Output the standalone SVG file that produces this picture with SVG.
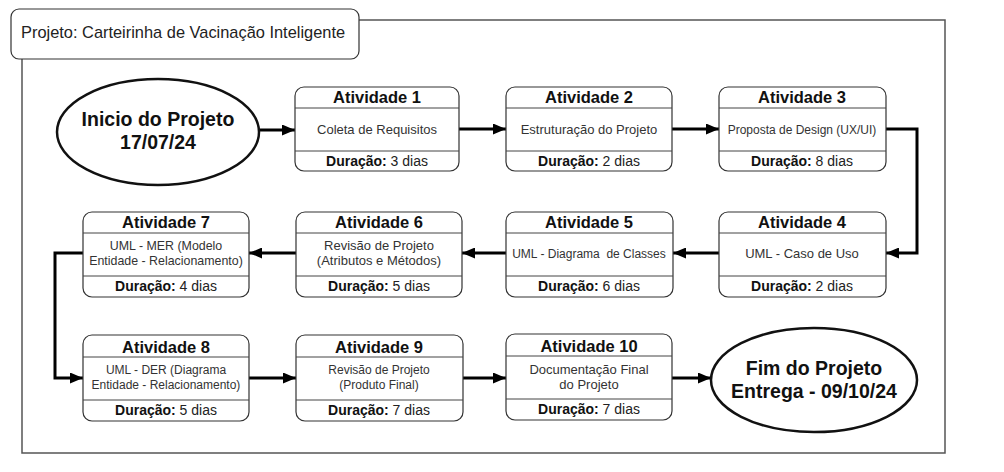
<svg xmlns="http://www.w3.org/2000/svg" width="1004" height="472" viewBox="0 0 1004 472">
<defs>
<style>
.frame{fill:none;stroke:#555;stroke-width:1.5}
.tbox{fill:#fff;stroke:#333;stroke-width:1.2}
.title{font-family:"Liberation Sans",Arial,sans-serif;font-size:16.4px;fill:#222}
.box{fill:#fff;stroke:#333;stroke-width:1.2}
.div{stroke:#444;stroke-width:1}
.hd{font-family:"Liberation Sans",Arial,sans-serif;font-size:16.5px;font-weight:bold;fill:#111;text-anchor:middle}
.md{font-family:"Liberation Sans",Arial,sans-serif;font-size:13px;fill:#333;text-anchor:middle}
.sm{font-size:12px}
.ms{font-size:12.4px}
.ft{font-family:"Liberation Sans",Arial,sans-serif;font-size:14px;fill:#222;text-anchor:middle}
.ft tspan.b{font-weight:bold;fill:#111}
.ell{fill:#fff;stroke:#111;stroke-width:2.5}
.big{font-family:"Liberation Sans",Arial,sans-serif;font-size:19.5px;font-weight:bold;fill:#111;text-anchor:middle}
.con{fill:none;stroke:#000;stroke-width:3;marker-end:url(#arr)}
</style>
<marker id="arr" viewBox="0 0 13 11" refX="13" refY="5.5" markerWidth="13" markerHeight="11" markerUnits="userSpaceOnUse" orient="auto">
<path d="M0,0 L13,5.5 L0,11 z" fill="#000"/>
</marker>
</defs>
<rect width="1004" height="472" fill="#fff"/>
<rect class="frame" x="22" y="20" width="923" height="433"/>
<g id="title">
<rect class="tbox" x="11" y="9" width="348" height="50" rx="8"/>
<text class="title" x="21" y="38">Projeto: Carteirinha de Vacinação Inteligente</text>
</g>
<g id="connectors">
<path class="con" d="M259,130 H295"/>
<path class="con" d="M459,129 H506"/>
<path class="con" d="M672,129 H719"/>
<path class="con" d="M886,129 H917 V253 H886"/>
<path class="con" d="M719,253 H673"/>
<path class="con" d="M506,253 H462"/>
<path class="con" d="M296,253 H249"/>
<path class="con" d="M83,253 H55 V378 H83"/>
<path class="con" d="M249,378 H296"/>
<path class="con" d="M463,378 H506"/>
<path class="con" d="M672,378 H711"/>
</g>
<g id="start">
<ellipse class="ell" cx="158" cy="132" rx="101" ry="53"/>
<text class="big" x="158" y="126">Inicio do Projeto</text>
<text class="big" x="158" y="149">17/07/24</text>
</g>
<g id="a1">
<rect class="box" x="295" y="87" width="164" height="84" rx="9"/>
<line class="div" x1="295" y1="108" x2="459" y2="108"/><line class="div" x1="295" y1="151" x2="459" y2="151"/>
<text class="hd" x="377" y="103">Atividade 1</text>
<text class="md" x="377" y="134">Coleta de Requisitos</text>
<text class="ft" x="377" y="166"><tspan class="b">Duração:</tspan> 3 dias</text>
</g>
<g id="a2">
<rect class="box" x="506" y="87" width="166" height="84" rx="9"/>
<line class="div" x1="506" y1="108" x2="672" y2="108"/><line class="div" x1="506" y1="151" x2="672" y2="151"/>
<text class="hd" x="589" y="103">Atividade 2</text>
<text class="md" x="589" y="134">Estruturação do Projeto</text>
<text class="ft" x="589" y="166"><tspan class="b">Duração:</tspan> 2 dias</text>
</g>
<g id="a3">
<rect class="box" x="719" y="87" width="167" height="84" rx="9"/>
<line class="div" x1="719" y1="108" x2="886" y2="108"/><line class="div" x1="719" y1="151" x2="886" y2="151"/>
<text class="hd" x="802" y="103">Atividade 3</text>
<text class="md sm" x="802" y="134">Proposta de Design (UX/UI)</text>
<text class="ft" x="802" y="166"><tspan class="b">Duração:</tspan> 8 dias</text>
</g>
<g id="a4">
<rect class="box" x="719" y="212" width="167" height="85" rx="9"/>
<line class="div" x1="719" y1="233" x2="886" y2="233"/><line class="div" x1="719" y1="276" x2="886" y2="276"/>
<text class="hd" x="802" y="228">Atividade 4</text>
<text class="md" x="802" y="258">UML - Caso de Uso</text>
<text class="ft" x="802" y="291"><tspan class="b">Duração:</tspan> 2 dias</text>
</g>
<g id="a5">
<rect class="box" x="506" y="212" width="167" height="85" rx="9"/>
<line class="div" x1="506" y1="233" x2="673" y2="233"/><line class="div" x1="506" y1="276" x2="673" y2="276"/>
<text class="hd" x="589" y="228">Atividade 5</text>
<text class="md sm" x="589" y="258" xml:space="preserve">UML - Diagrama  de Classes</text>
<text class="ft" x="589" y="291"><tspan class="b">Duração:</tspan> 6 dias</text>
</g>
<g id="a6">
<rect class="box" x="296" y="212" width="166" height="85" rx="9"/>
<line class="div" x1="296" y1="233" x2="462" y2="233"/><line class="div" x1="296" y1="276" x2="462" y2="276"/>
<text class="hd" x="379" y="228">Atividade 6</text>
<text class="md" x="379" y="250">Revisão de Projeto</text>
<text class="md" x="379" y="265">(Atributos e Métodos)</text>
<text class="ft" x="379" y="291"><tspan class="b">Duração:</tspan> 5 dias</text>
</g>
<g id="a7">
<rect class="box" x="83" y="212" width="166" height="85" rx="9"/>
<line class="div" x1="83" y1="233" x2="249" y2="233"/><line class="div" x1="83" y1="276" x2="249" y2="276"/>
<text class="hd" x="166" y="228">Atividade 7</text>
<text class="md ms" x="166" y="250">UML - MER (Modelo</text>
<text class="md ms" x="166" y="265">Entidade - Relacionamento)</text>
<text class="ft" x="166" y="291"><tspan class="b">Duração:</tspan> 4 dias</text>
</g>
<g id="a8">
<rect class="box" x="83" y="335" width="166" height="86" rx="9"/>
<line class="div" x1="83" y1="357" x2="249" y2="357"/><line class="div" x1="83" y1="400" x2="249" y2="400"/>
<text class="hd" x="166" y="353">Atividade 8</text>
<text class="md sm" x="166" y="374">UML - DER (Diagrama</text>
<text class="md sm" x="166" y="389">Entidade - Relacionamento)</text>
<text class="ft" x="166" y="415"><tspan class="b">Duração:</tspan> 5 dias</text>
</g>
<g id="a9">
<rect class="box" x="296" y="335" width="167" height="86" rx="9"/>
<line class="div" x1="296" y1="357" x2="463" y2="357"/><line class="div" x1="296" y1="400" x2="463" y2="400"/>
<text class="hd" x="379" y="353">Atividade 9</text>
<text class="md sm" x="379" y="374">Revisão de Projeto</text>
<text class="md sm" x="379" y="389">(Produto Final)</text>
<text class="ft" x="379" y="415"><tspan class="b">Duração:</tspan> 7 dias</text>
</g>
<g id="a10">
<rect class="box" x="506" y="334" width="166" height="86" rx="9"/>
<line class="div" x1="506" y1="356" x2="672" y2="356"/><line class="div" x1="506" y1="399" x2="672" y2="399"/>
<text class="hd" x="589" y="352">Atividade 10</text>
<text class="md" x="589" y="374">Documentação Final</text>
<text class="md" x="589" y="389">do Projeto</text>
<text class="ft" x="589" y="414"><tspan class="b">Duração:</tspan> 7 dias</text>
</g>
<g id="end">
<ellipse class="ell" cx="814" cy="380" rx="103" ry="52"/>
<text class="big" x="814" y="375">Fim do Projeto</text>
<text class="big" x="814" y="398">Entrega - 09/10/24</text>
</g>
</svg>
